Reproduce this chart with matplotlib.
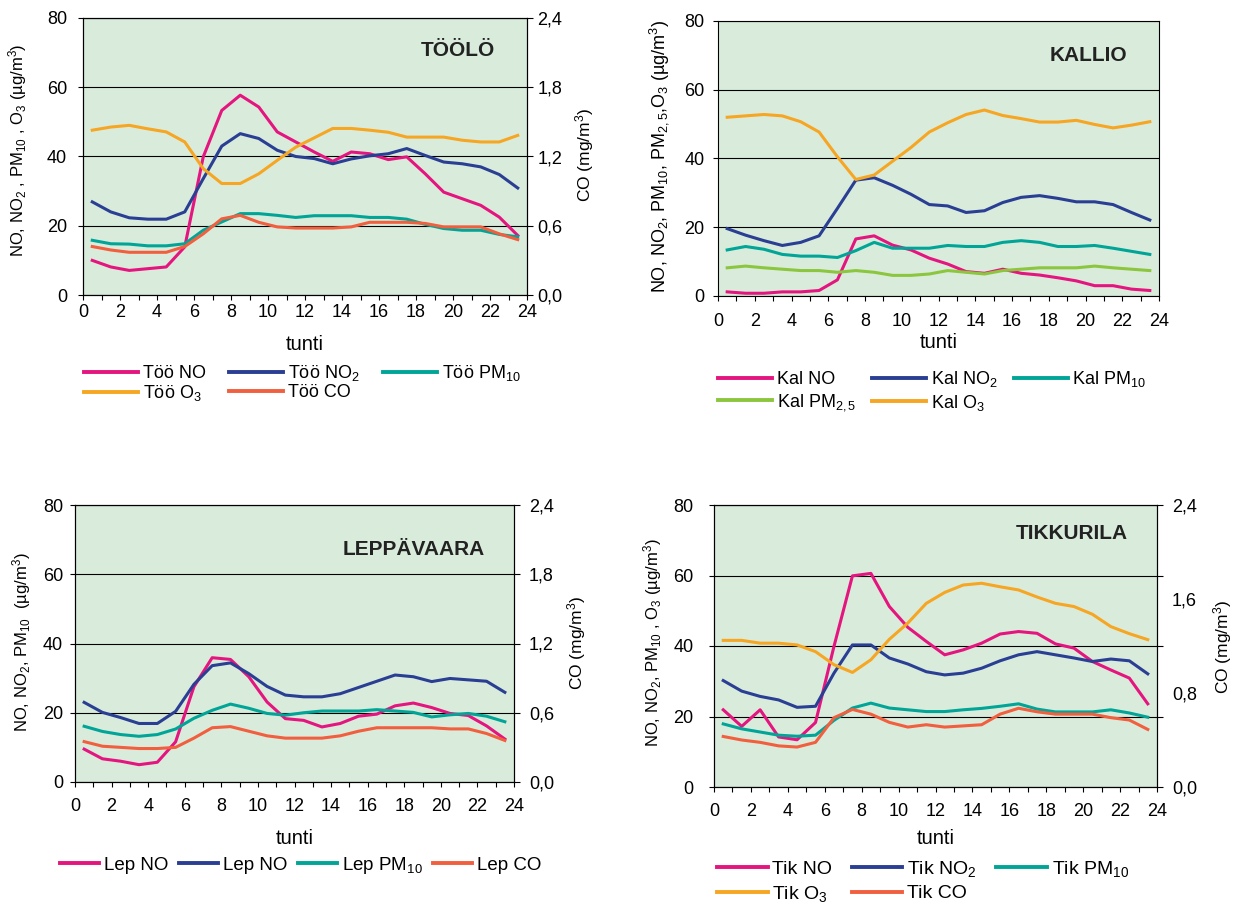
import numpy as np
import matplotlib
matplotlib.use('Agg')
import matplotlib.pyplot as plt
from matplotlib.ticker import MultipleLocator, FuncFormatter

plt.rcParams['font.family'] = ['Liberation Sans', 'DejaVu Sans']
plt.rcParams['mathtext.fontset'] = 'custom'
plt.rcParams['mathtext.rm'] = 'Liberation Sans'
plt.rcParams['mathtext.it'] = 'Liberation Sans:italic'
plt.rcParams['mathtext.default'] = 'regular'
plt.rcParams['axes.linewidth'] = 0.8

hours = np.arange(24) + 0.5

# Töölö
too_no = [10.0, 8.1, 7.1, 7.6, 8.1, 13.9, 39.9, 53.3, 57.7, 54.3, 47.1, 44.2,
          41.3, 38.6, 41.3, 40.8, 39.1, 39.9, 35.0, 29.7, 27.8, 25.9, 22.5, 17.2]
too_no2 = [26.9, 24.0, 22.3, 21.9, 21.9, 24.0, 33.6, 43.0, 46.6, 45.2, 41.8, 40.0,
           39.4, 37.9, 39.3, 40.2, 40.8, 42.3, 40.3, 38.4, 37.9, 37.0, 34.8, 30.9]
too_pm10 = [15.8, 14.8, 14.7, 14.2, 14.2, 14.8, 18.7, 21.1, 23.5, 23.5, 23.0, 22.4,
            22.9, 22.9, 22.9, 22.4, 22.4, 21.9, 20.4, 19.2, 18.7, 18.7, 17.5, 16.8]
too_o3 = [47.6, 48.5, 49.0, 48.0, 47.1, 44.2, 36.5, 32.2, 32.2, 35.0, 38.9, 42.7,
          45.4, 48.1, 48.1, 47.6, 47.0, 45.6, 45.6, 45.6, 44.7, 44.2, 44.2, 46.1]
too_co = [0.42, 0.39, 0.37, 0.37, 0.37, 0.42, 0.53, 0.66, 0.69, 0.63, 0.59, 0.58,
          0.58, 0.58, 0.59, 0.63, 0.63, 0.63, 0.62, 0.59, 0.59, 0.59, 0.53, 0.48]

# Kallio
kal_no = [1.2, 0.8, 0.8, 1.2, 1.2, 1.6, 4.7, 16.6, 17.5, 14.8, 13.4, 11.0,
          9.3, 7.1, 6.6, 7.8, 6.6, 6.1, 5.3, 4.4, 3.0, 3.0, 2.0, 1.6]
kal_no2 = [19.6, 17.7, 16.1, 14.7, 15.6, 17.5, 25.5, 33.7, 34.4, 32.2, 29.6, 26.6,
           26.2, 24.3, 24.8, 27.2, 28.7, 29.2, 28.4, 27.4, 27.4, 26.6, 24.3, 22.1]
kal_pm10 = [13.4, 14.4, 13.6, 12.1, 11.6, 11.6, 11.2, 13.2, 15.6, 13.9, 13.9, 13.9,
            14.7, 14.4, 14.4, 15.6, 16.1, 15.6, 14.4, 14.4, 14.7, 13.9, 13.0, 12.1]
kal_pm25 = [8.2, 8.7, 8.2, 7.8, 7.4, 7.4, 6.9, 7.4, 6.9, 6.0, 6.0, 6.4,
            7.4, 6.9, 6.4, 7.4, 7.8, 8.2, 8.2, 8.2, 8.7, 8.2, 7.8, 7.4]
kal_o3 = [52.0, 52.4, 52.8, 52.4, 50.7, 47.7, 40.5, 33.9, 35.2, 39.2, 43.2, 47.7,
          50.4, 52.8, 54.1, 52.5, 51.6, 50.6, 50.6, 51.1, 49.9, 48.9, 49.7, 50.7]

# Leppävaara
lep_no = [9.5, 6.7, 6.0, 5.0, 5.7, 11.6, 27.5, 35.9, 35.4, 30.4, 23.1, 18.3,
          17.8, 15.9, 16.9, 19.0, 19.6, 22.0, 22.8, 21.5, 19.8, 19.2, 16.2, 12.4]
lep_no2 = [23.0, 20.1, 18.6, 16.9, 16.9, 20.4, 28.2, 33.6, 34.4, 31.3, 27.6, 25.1,
           24.6, 24.6, 25.5, 27.3, 29.1, 30.9, 30.4, 29.0, 29.9, 29.5, 29.1, 25.9]
lep_pm10 = [16.1, 14.6, 13.7, 13.2, 13.7, 15.3, 18.4, 20.7, 22.5, 21.3, 19.8, 19.3,
            20.0, 20.5, 20.5, 20.5, 20.9, 20.5, 20.1, 18.8, 19.4, 19.8, 19.0, 17.4]
lep_co = [0.35, 0.31, 0.30, 0.29, 0.29, 0.30, 0.38, 0.47, 0.48, 0.44, 0.40, 0.38,
          0.38, 0.38, 0.40, 0.44, 0.47, 0.47, 0.47, 0.47, 0.46, 0.46, 0.42, 0.36]

# Tikkurila
tik_no = [21.9, 17.2, 21.9, 14.2, 13.4, 18.3, 39.9, 59.9, 60.6, 51.2, 45.3, 41.3,
          37.5, 38.9, 40.8, 43.4, 44.1, 43.6, 40.6, 39.4, 35.6, 33.2, 30.9, 23.6]
tik_no2 = [30.2, 27.2, 25.7, 24.7, 22.6, 22.9, 32.3, 40.3, 40.3, 36.6, 34.9, 32.7,
           31.8, 32.3, 33.7, 35.8, 37.5, 38.4, 37.5, 36.6, 35.6, 36.3, 35.8, 32.1]
tik_pm10 = [17.9, 16.5, 15.6, 14.7, 14.4, 14.7, 18.9, 22.4, 23.8, 22.4, 21.9, 21.4,
            21.4, 21.9, 22.3, 22.9, 23.6, 22.1, 21.3, 21.3, 21.3, 21.9, 21.0, 19.8]
tik_o3 = [41.6, 41.6, 40.8, 40.8, 40.3, 38.4, 34.7, 32.5, 36.1, 41.9, 46.5, 52.1,
          55.2, 57.3, 57.8, 56.8, 55.9, 53.9, 52.1, 51.2, 49.0, 45.5, 43.5, 41.8]
tik_co = [0.43, 0.40, 0.38, 0.35, 0.34, 0.38, 0.59, 0.66, 0.62, 0.55, 0.51, 0.53,
          0.51, 0.52, 0.53, 0.62, 0.67, 0.64, 0.62, 0.62, 0.62, 0.59, 0.57, 0.49]

BG = '#d9ecdc'
C_NO = '#e5157f'
C_NO2 = '#2a3f93'
C_PM10 = '#00a597'
C_PM25 = '#8cc63e'
C_O3 = '#f6a623'
C_CO = '#f15f3f'
LW = 2.2

fig = plt.figure(figsize=(12.39, 9.10), dpi=100)
W, H = 1239, 910
comma = FuncFormatter(lambda v, p: f'{v:.1f}'.replace('.', ','))


def make_axes(box):
    left, right, top, bottom = box
    return fig.add_axes([left / W, (H - bottom) / H, (right - left) / W, (bottom - top) / H])


def style(ax, box, ylabel, ylsize, title, tx, ty, xpad, ypad, tunti_y, ylab_x, ylab_y):
    left, right, top, bottom = box
    ax.set_facecolor(BG)
    ax.set_xlim(0, 24)
    ax.set_ylim(0, 80)
    ax.xaxis.set_major_locator(MultipleLocator(2))
    ax.xaxis.set_minor_locator(MultipleLocator(1))
    ax.yaxis.set_major_locator(MultipleLocator(20))
    ax.tick_params(which='both', direction='out', labelsize=13, width=0.8, length=3.6)
    ax.tick_params(axis='x', pad=xpad)
    ax.tick_params(axis='y', pad=ypad)
    ax.grid(axis='y', color='black', lw=0.8)
    ax.set_axisbelow(True)
    ax.set_xlabel('tunti', fontsize=14.5, va='center')
    ax.xaxis.set_label_coords(0.5, (bottom - tunti_y) / (bottom - top))
    ax.set_ylabel(ylabel, fontsize=ylsize, va='center')
    ax.yaxis.set_label_coords((ylab_x - left) / (right - left), (bottom - ylab_y) / (bottom - top))
    ax.text(tx, ty, title, transform=ax.transAxes, ha='right', va='center',
            fontsize=15, fontweight='bold', color='#222222')


def co_axis(ax, box, co, ypad, lab_x, lab_y, step=None):
    left, right, top, bottom = box
    ax2 = ax.twinx()
    ax2.set_ylim(0, 2.4)
    if step is None:
        ax2.yaxis.set_major_locator(MultipleLocator(0.6))
        ax2.tick_params(direction='out', labelsize=13, width=0.8, length=4.3, pad=ypad)
    else:
        # labels every `step`, tick marks at the gridline levels
        ax2.yaxis.set_major_locator(MultipleLocator(step))
        ax2.yaxis.set_minor_locator(MultipleLocator(0.6))
        ax2.yaxis.remove_overlapping_locs = False
        ax2.tick_params(which='major', direction='out', labelsize=13, length=0, pad=ypad)
        ax2.tick_params(which='minor', direction='out', width=0.8, length=4.3)
    ax2.yaxis.set_major_formatter(comma)
    ax2.set_ylabel('CO (mg/m$^3$)', fontsize=12.5, va='center')
    ax2.yaxis.set_label_coords((lab_x - left) / (right - left), (bottom - lab_y) / (bottom - top))
    ax2.plot(hours, co, color=C_CO, lw=LW)
    return ax2


def legend(ax, handles, labels, x, y, ncol, colsp, fs, hlen, lsp):
    leg = ax.legend(handles, labels, loc='upper left', bbox_to_anchor=(x / W, (H - y) / H),
                    bbox_transform=fig.transFigure, ncol=ncol, frameon=False,
                    fontsize=fs, handlelength=hlen, handletextpad=0.25,
                    columnspacing=colsp, labelspacing=lsp, borderpad=0, borderaxespad=0)
    for ln in leg.get_lines():
        ln.set_linewidth(2.8)


# Töölö
box = (83, 527, 18, 295)
ax = make_axes(box)
style(ax, box, 'NO, NO$_2$ , PM$_{10}$ , O$_3$ (µg/m$^3$)', 12, 'TÖÖLÖ', 0.928, 0.884,
      3, 8, 345, 18, 150)
h1, = ax.plot(hours, too_no, color=C_NO, lw=LW)
h2, = ax.plot(hours, too_no2, color=C_NO2, lw=LW)
h3, = ax.plot(hours, too_pm10, color=C_PM10, lw=LW)
h4, = ax.plot(hours, too_o3, color=C_O3, lw=LW)
ax2 = co_axis(ax, box, too_co, 3, 585, 155)
h5 = ax2.lines[0]
legend(ax, [h1, h4, h2, h5, h3],
       ['Töö NO', 'Töö O$_3$', 'Töö NO$_2$', 'Töö CO', 'Töö PM$_{10}$'], 84, 363, 3, 1.3,
       13, 3.0, 0.05)

# Kallio
box = (718, 1159, 21, 296)
ax = make_axes(box)
style(ax, box, 'NO, NO$_2$, PM$_{10}$, PM$_{2,5}$,O$_3$ (µg/m$^3$)', 13, 'KALLIO', 0.929, 0.873,
      8.6, 6, 343, 659, 156)
h1, = ax.plot(hours, kal_no, color=C_NO, lw=LW)
h2, = ax.plot(hours, kal_no2, color=C_NO2, lw=LW)
h3, = ax.plot(hours, kal_pm10, color=C_PM10, lw=LW)
h4, = ax.plot(hours, kal_pm25, color=C_PM25, lw=LW)
h5, = ax.plot(hours, kal_o3, color=C_O3, lw=LW)
legend(ax, [h1, h4, h2, h5, h3],
       ['Kal NO', 'Kal PM$_{2,5}$', 'Kal NO$_2$', 'Kal O$_3$', 'Kal PM$_{10}$'], 718, 369, 3, 0.9,
       13, 3.0, 0.2)

# Leppävaara
box = (75, 514, 505, 782)
ax = make_axes(box)
style(ax, box, 'NO, NO$_2$, PM$_{10}$  (µg/m$^3$)', 12, 'LEPPÄVAARA', 0.933, 0.841,
      8, 5, 838, 22, 642)
h1, = ax.plot(hours, lep_no, color=C_NO, lw=LW)
h2, = ax.plot(hours, lep_no2, color=C_NO2, lw=LW)
h3, = ax.plot(hours, lep_pm10, color=C_PM10, lw=LW)
ax2 = co_axis(ax, box, lep_co, 6.5, 577, 643)
h4 = ax2.lines[0]
legend(ax, [h1, h2, h3, h4], ['Lep NO', 'Lep NO', 'Lep PM$_{10}$', 'Lep CO'], 60, 855, 4, 0.55,
       13.5, 2.1, 0.1)

# Tikkurila
box = (714, 1157, 505, 787)
ax = make_axes(box)
style(ax, box, 'NO, NO$_2$, PM$_{10}$ , O$_3$ (µg/m$^3$)', 12, 'TIKKURILA', 0.935, 0.90,
      8, 11, 838, 653, 643)
h1, = ax.plot(hours, tik_no, color=C_NO, lw=LW)
h2, = ax.plot(hours, tik_no2, color=C_NO2, lw=LW)
h3, = ax.plot(hours, tik_pm10, color=C_PM10, lw=LW)
h4, = ax.plot(hours, tik_o3, color=C_O3, lw=LW)
ax2 = co_axis(ax, box, tik_co, 10.8, 1223, 647, step=0.8)
h5 = ax2.lines[0]
legend(ax, [h1, h4, h2, h5, h3],
       ['Tik NO', 'Tik O$_3$', 'Tik NO$_2$', 'Tik CO', 'Tik PM$_{10}$'], 717, 859, 3, 1.0,
       14, 2.6, 0.3)

fig.savefig('out.png', dpi=100)
